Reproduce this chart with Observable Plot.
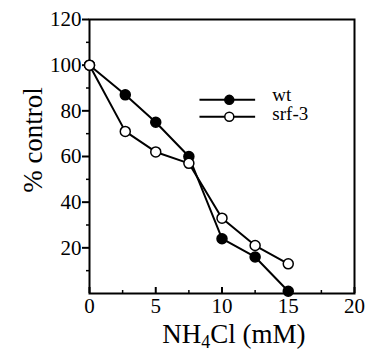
<!DOCTYPE html>
<html>
<head>
<meta charset="utf-8">
<script src="https://cdn.jsdelivr.net/npm/d3@7"></script>
<script src="https://cdn.jsdelivr.net/npm/@observablehq/plot@0.6"></script>
<style>
  html, body { margin: 0; padding: 0; background: #fff; }
</style>
</head>
<body>
<div id="chart"></div>
<script>
const conc = [0, 2.7, 5, 7.5, 10, 12.5, 15];
const wt = [100, 87, 75, 60, 24, 16, 1];
const srf3 = [100, 71, 62, 57, 33, 21, 13];
const seriesNames = ["wt", "srf-3"];
const xMajor = [0, 5, 10, 15, 20];
const xMinor = [2.5, 7.5, 12.5, 17.5];
const yMajor = [20, 40, 60, 80, 100, 120];
const yMinor = [10, 30, 50, 70, 90, 110];

const SERIF = "'Liberation Serif', 'Times New Roman', Times, serif";

const data = [
  ...conc.map((c, i) => ({x: c, y: wt[i], s: "wt"})),
  ...conc.map((c, i) => ({x: c, y: srf3[i], s: "srf-3"}))
];
// legend entries (in data units, inside the plot area)
const legend = [
  {s: "wt", x1: 8.3, x2: 12.5, xm: 10.55, y: 84.8, tx: 13.8, ty: 84.3},
  {s: "srf-3", x1: 8.3, x2: 12.5, xm: 10.55, y: 77.4, tx: 13.8, ty: 75.8}
];
const fillOf = s => s === "wt" ? "black" : "white";

const chart = Plot.plot({
  width: 365,
  height: 351,
  marginLeft: 89,
  marginRight: 11,
  marginTop: 19,
  marginBottom: 58,
  style: `font-family: ${SERIF}; background: white;`,
  x: {domain: [0, 20]},
  y: {domain: [0, 120]},
  marks: [
    Plot.frame({stroke: "black", strokeWidth: 2}),
    Plot.axisY({ticks: yMajor, tickSize: 7, tickPadding: 1, fontSize: 21, fontFamily: SERIF, label: null, strokeWidth: 2, tickFormat: d => d}),
    Plot.axisY({ticks: yMinor, tickSize: 3, text: null, label: null, strokeWidth: 1.5}),
    Plot.axisX({ticks: xMajor, tickSize: -6, text: null, label: null, strokeWidth: 2}),
    Plot.axisX({ticks: xMinor, tickSize: -3, text: null, label: null, strokeWidth: 1.5}),
    Plot.axisX({ticks: xMajor, tickSize: 0, tickPadding: 5, fontSize: 21, fontFamily: SERIF, label: null, tickFormat: d => d}),
    Plot.line(data, {x: "x", y: "y", z: "s", stroke: "black", strokeWidth: 2}),
    Plot.dot(data, {x: "x", y: "y", r: 5, stroke: "black", strokeWidth: 1.5, fill: d => fillOf(d.s)}),
    Plot.link(legend, {x1: "x1", x2: "x2", y1: "y", y2: "y", stroke: "black", strokeWidth: 2}),
    Plot.dot(legend, {x: "xm", y: "y", r: 4.5, stroke: "black", strokeWidth: 1.5, fill: d => fillOf(d.s)}),
    Plot.text(legend, {x: "tx", y: "ty", text: "s", textAnchor: "start", fontSize: 19, fontFamily: SERIF, fill: "black", lineAnchor: "bottom", lineHeight: 0.9})
  ]
});

const svg = d3.select(chart);
svg.append("text")
  .attr("x", 234).attr("y", 343)
  .attr("text-anchor", "middle")
  .attr("font-size", 27)
  .attr("font-family", SERIF)
  .attr("fill", "black")
  .call(t => {
    t.append("tspan").text("NH");
    t.append("tspan").attr("font-size", 18).attr("dy", 5).text("4");
    t.append("tspan").attr("dy", -5).text("Cl (mM)");
  });
svg.append("text")
  .attr("transform", "translate(42,140) rotate(-90)")
  .attr("text-anchor", "middle")
  .attr("font-size", 27)
  .attr("font-family", SERIF)
  .attr("fill", "black")
  .text("% control");

document.getElementById("chart").appendChild(chart);
</script>
</body>
</html>
